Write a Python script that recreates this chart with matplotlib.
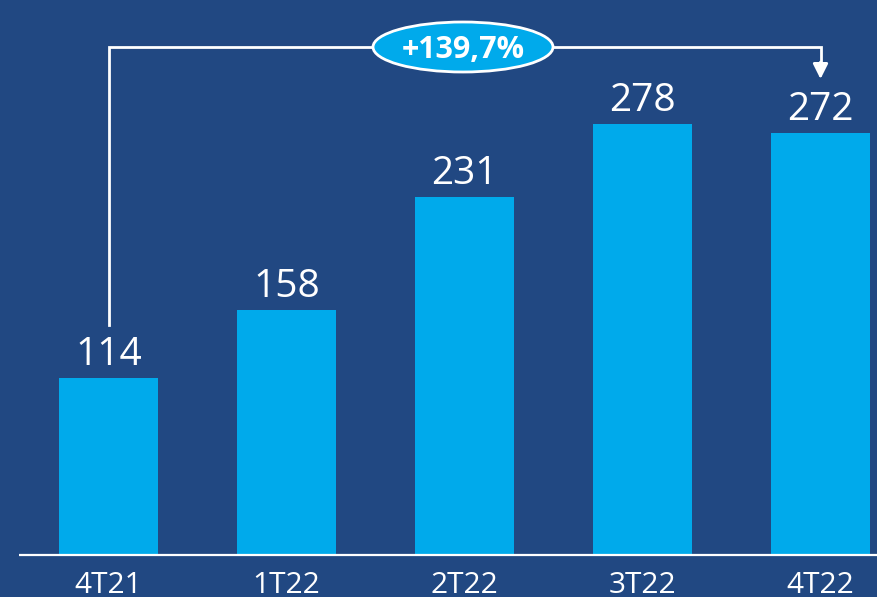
import matplotlib
matplotlib.use("Agg")
import matplotlib.pyplot as plt
from matplotlib.patches import Ellipse

categories = ["4T21", "1T22", "2T22", "3T22", "4T22"]
values = [114, 158, 231, 278, 272]
growth_label = "+139,7%"

BG = "#214882"
BAR = "#00aaeb"
W, H = 877, 597

fig = plt.figure(figsize=(W / 100, H / 100), dpi=100, facecolor=BG)
ax = fig.add_axes([0, 0, 1, 1], facecolor=BG)

# pixel mapping
x0_px, step_px = 108.5, 178.0
base_px, scale = 555.0, 1.55
def px2x(p):
    return (p - x0_px) / step_px
def py2y(p):
    return (base_px - p) / scale

ax.set_xlim(px2x(0), px2x(W))
ax.set_ylim(py2y(H), py2y(0))
ax.axis("off")

xs = list(range(len(categories)))
ax.bar(xs, values, width=99 / step_px, color=BAR, zorder=2)

# baseline
ax.plot([px2x(19), px2x(W)], [0, 0], color="white", lw=1.6, zorder=3,
        solid_capstyle="butt")

fam = ["Open Sans", "DejaVu Sans"]
for x, v in zip(xs, values):
    ax.text(x, v + 13 / scale, str(v), ha="center", va="baseline", color="white",
            fontsize=28, family=fam, fontweight="normal")
for x, c in zip(xs, categories):
    ax.text(x, py2y(593), c, ha="center", va="baseline", color="white",
            fontsize=21.5, family=fam, fontweight="normal")

# connector
y_top = py2y(47)
first, last = xs[0], xs[-1]
ax.plot([first, first, last, last],
        [py2y(325), y_top, y_top, py2y(64)],
        color="white", lw=2, zorder=3, solid_joinstyle="miter")
ax.annotate("", xy=(last, py2y(79)), xytext=(last, py2y(62)),
            arrowprops=dict(arrowstyle="-|>,head_length=0.9,head_width=0.45",
                            color="white", lw=2, shrinkA=0, shrinkB=0), zorder=4)

cx = px2x(463)
ell = Ellipse((cx, y_top), width=180 / step_px, height=50 / scale,
              facecolor=BAR, edgecolor="white", lw=2, zorder=5)
ax.add_patch(ell)
ax.text(cx, y_top, growth_label, ha="center", va="center_baseline", color="white",
        fontsize=22, family=fam, fontweight="bold", zorder=6)

fig.savefig("out.png", dpi=100, facecolor=BG)
